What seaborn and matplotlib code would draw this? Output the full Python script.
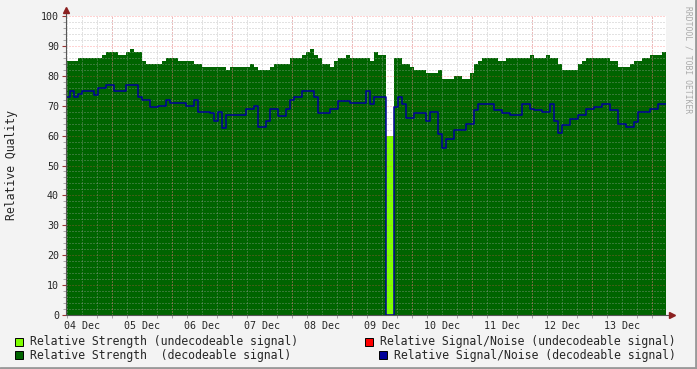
import numpy as np
import pandas as pd
import matplotlib
matplotlib.use("Agg")
import matplotlib.pyplot as plt
import matplotlib.dates as mdates
from matplotlib.ticker import MultipleLocator
from matplotlib.patches import Rectangle
import seaborn as sns

# samples every 96 minutes, starting 04 Dec 05:36
start = "2008-12-04 05:36"
n = 150

# Relative strength (decodeable signal), NaN where nothing was decoded
strength = [85, 85, 85, 86, 86, 86, 86, 86, 86, 87,
            88, 88, 88, 87, 87, 88, 89, 88, 88, 85,
            84, 84, 84, 84, 85, 86, 86, 86, 85, 85,
            85, 85, 84, 84, 83, 83, 83, 83, 83, 83,
            82, 83, 83, 83, 83, 83, 84, 83, 82, 82,
            82, 83, 84, 84, 84, 84, 86, 86, 86, 87,
            88, 89, 87, 86, 84, 84, 83, 85, 86, 86,
            87, 86, 86, 86, 86, 86, 85, 88, 87, 87,
            np.nan, np.nan, 86, 86, 84, 84, 83, 82, 82, 82,
            81, 81, 81, 82, 79, 79, 79, 80, 80, 79,
            79, 81, 84, 85, 86, 86, 86, 86, 85, 85,
            86, 86, 86, 86, 86, 86, 87, 86, 86, 86,
            87, 86, 86, 84, 82, 82, 82, 82, 84, 85,
            86, 86, 86, 86, 86, 86, 85, 85, 83, 83,
            83, 84, 85, 85, 86, 86, 87, 87, 87, 88]

# Relative signal/noise (decodeable signal)
snr = [73, 75, 73, 74, 75, 75, 75, 73.5, 76, 76,
       77, 77, 75, 75, 75, 77, 77, 77, 73, 72,
       72, 69.5, 69.5, 70, 70, 72, 71, 71, 71, 71,
       70, 70, 72, 68, 68, 68, 67.5, 65, 68, 62.5,
       67, 67, 67, 67, 67, 69, 69, 70, 63, 63,
       65, 69, 69, 66.5, 66.5, 69, 72, 73, 73, 75,
       75, 75, 73, 67.5, 67.5, 67.5, 69, 69, 71.5, 71.5,
       71.5, 71, 71, 71, 71, 75, 70.5, 73, 73, 73,
       0, 0, 69.5, 73, 70.5, 66, 66, 67.5, 67.5, 67.5,
       65, 68, 68, 60.5, 56, 59, 59, 62, 62, 62,
       64, 64, 68.5, 70.5, 70.5, 70.5, 70.5, 68.5, 68.5, 67.5,
       67.5, 67, 67, 67, 70.5, 70.5, 69, 68.5, 68.5, 68,
       68, 70.5, 65, 61, 63.5, 63.5, 65.5, 65.5, 67, 67,
       69, 69, 69.5, 69.5, 70.5, 70.5, 68.5, 68.5, 64, 64,
       63, 63, 64.5, 68, 68, 68, 69, 69, 70.5, 70.5]

# Relative strength (undecodeable signal): only in the gap
undec_strength = np.full(n, np.nan)
undec_strength[80:82] = [60, 60]

times = pd.date_range(start, periods=n + 1, freq="96min")

def stairs(v):
    # edges/values -> explicit step outline so NaN gaps keep their width
    xs = np.repeat(times.values, 2)[1:-1]
    ys = np.repeat(np.asarray(v, dtype=float), 2)
    return xs, ys

df = pd.DataFrame({"time": times, "snr": list(snr) + [snr[-1]]})

sns.set_style("white")
plt.rcParams["font.family"] = ["DejaVu Sans Mono"]

bg = "#F3F3F3"
fig = plt.figure(figsize=(6.97, 3.69), dpi=100, facecolor=bg)
ax = fig.add_axes([66 / 697, 54 / 369, 600 / 697, 299 / 369])
ax.set_facecolor("white")

dark_green = "#006400"
light_green = "#7FFF00"
blue = "#000099"

xs, ys = stairs(strength)
ax.fill_between(xs, 0, ys, color=dark_green, lw=0, zorder=1)
xs, ys = stairs(undec_strength)
ax.fill_between(xs, 0, ys, color=light_green, lw=0, zorder=1)
sns.lineplot(data=df, x="time", y="snr", drawstyle="steps-post",
             color=blue, lw=1.1, ax=ax, zorder=3)

ax.set_xlim(times[0], times[-1])
ax.set_ylim(0, 100)

# y grid
ax.yaxis.set_major_locator(MultipleLocator(10))
ax.yaxis.set_minor_locator(MultipleLocator(2))
# x: labels at noon, grid every 6 hours, red lines at midnight
ax.xaxis.set_major_locator(mdates.HourLocator(byhour=[12]))
ax.xaxis.set_major_formatter(mdates.DateFormatter("%d Dec"))
ax.xaxis.set_minor_locator(mdates.HourLocator(byhour=[0, 6, 18]))

ax.set_axisbelow(False)
grey_grid = dict(color="#A8A8A8", alpha=0.65, lw=0.72, ls=(0, (1, 2)))
red_grid = dict(color="#FF5050", alpha=0.5, lw=0.72, ls=(0, (1, 2)))
ax.grid(which="minor", axis="both", **grey_grid)
ax.grid(which="major", axis="x", **grey_grid)
ax.grid(which="major", axis="y", **red_grid)
for d in pd.date_range("2008-12-05", "2008-12-14", freq="D"):
    ax.axvline(d, zorder=2.6, **red_grid)

for s in ax.spines.values():
    s.set_visible(False)

ax.tick_params(axis="y", which="major", length=3, color="#993333",
               labelsize=7.2, pad=2, left=True)
ax.tick_params(axis="y", which="minor", length=2, color="#999999", left=True)
ax.tick_params(axis="x", which="major", length=0, labelsize=7.2, pad=4)
ax.tick_params(axis="x", which="minor", length=2, color="#999999", bottom=True)
ax.set_xlabel("")
ax.set_ylabel("")

# axis lines with arrows
ax.plot([0, 0], [0, 1.02], transform=ax.transAxes, color="#555555",
        lw=0.8, clip_on=False, zorder=4)
ax.plot([0, 1.01], [0, 0], transform=ax.transAxes, color="#555555",
        lw=0.8, clip_on=False, zorder=4)
ax.plot([0], [1.02], marker="^", ms=4, color="#8B2020",
        transform=ax.transAxes, clip_on=False, zorder=5)
ax.plot([1.01], [0], marker=">", ms=4, color="#8B2020",
        transform=ax.transAxes, clip_on=False, zorder=5)

fig.text(12 / 697, 1 - 165 / 369, "Relative Quality", rotation=90,
         ha="center", va="center", fontsize=8.3)
fig.text(688 / 697, 1 - 60 / 369, "RRDTOOL / TOBI OETIKER", rotation=270,
         ha="center", va="center", fontsize=5.8, color="#AAAAAA")

# legend
legend = [
    (15, 342, light_green, "Relative Strength (undecodeable signal)"),
    (365, 342, "#FF0000", "Relative Signal/Noise (undecodeable signal)"),
    (15, 355, dark_green, "Relative Strength  (decodeable signal)"),
    (379, 355, blue, "Relative Signal/Noise (decodeable signal)"),
]
for x, y, c, label in legend:
    fig.add_artist(Rectangle((x / 697, 1 - (y + 4) / 369), 8 / 697, 8 / 369,
                             transform=fig.transFigure, facecolor=c,
                             edgecolor="black", lw=0.7))
    fig.text((x + 15) / 697, 1 - y / 369, label, ha="left", va="center",
             fontsize=8.3)

# frame edges
fig.add_artist(plt.Line2D([0, 1], [1.5 / 369, 1.5 / 369],
                          transform=fig.transFigure, color="#999999", lw=2))
fig.add_artist(plt.Line2D([1 - 1.5 / 697, 1 - 1.5 / 697], [0, 1],
                          transform=fig.transFigure, color="#999999", lw=2))

fig.savefig("out.png", dpi=100, facecolor=bg)
